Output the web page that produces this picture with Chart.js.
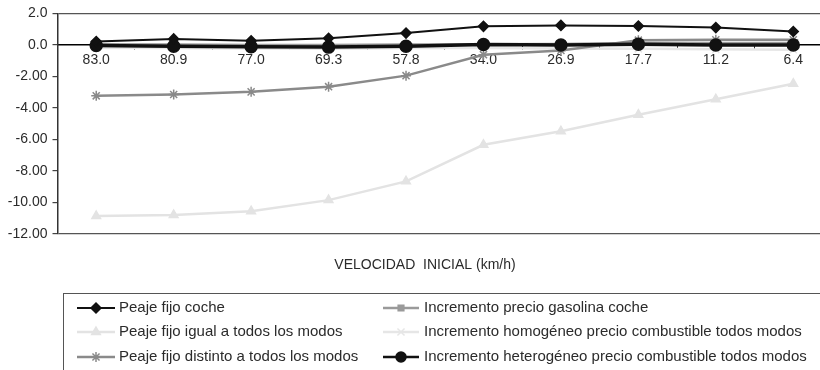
<!DOCTYPE html>
<html>
<head>
<meta charset="utf-8">
<script src="https://cdn.jsdelivr.net/npm/chart.js@4/dist/chart.umd.min.js"></script>
<style>
  html, body { margin: 0; padding: 0; background: #fff; overflow: hidden; }
  #wrap { width: 840px; height: 370px; }
</style>
</head>
<body>
<div id="wrap"><canvas id="c" width="840" height="370"></canvas></div>
<script>
// Velocidad inicial (km/h) por escenario
const categories = ['83.0', '80.9', '77.0', '69.3', '57.8', '34.0', '26.9', '17.7', '11.2', '6.4'];
const yTickValues = [2, 0, -2, -4, -6, -8, -10, -12];

const peajeCoche     = [0.22, 0.38, 0.26, 0.42, 0.75, 1.18, 1.24, 1.20, 1.10, 0.85];
const peajeIgual     = [-10.86, -10.80, -10.55, -9.85, -8.66, -6.34, -5.48, -4.43, -3.45, -2.46];
const peajeDistinto  = [-3.23, -3.15, -2.98, -2.65, -1.95, -0.62, -0.35, 0.30, 0.33, 0.33];
const gasolinaCoche  = [0.05, 0.03, 0.00, 0.00, 0.02, 0.05, 0.06, 0.12, 0.12, 0.12];
const homogeneo      = [-0.18, -0.20, -0.22, -0.24, -0.20, -0.20, -0.22, -0.25, -0.28, -0.30];
const heterogeneo    = [-0.04, -0.08, -0.12, -0.14, -0.08, 0.02, 0.00, 0.05, 0.00, 0.00];

const FONT = '"Liberation Sans", Arial, Helvetica, sans-serif';
const TEXT = '#2b2b2b';

function series(label, data, color, width, style, radius, fill, order) {
  return {
    label, data,
    borderColor: color,
    borderWidth: width,
    pointStyle: style,
    pointRadius: radius,
    pointHoverRadius: radius,
    pointBackgroundColor: fill,
    pointBorderColor: color,
    pointBorderWidth: 1.5,
    tension: 0,
    fill: false,
    order
  };
}

const datasets = [
  series('Peaje fijo coche', peajeCoche, '#111111', 2, 'rectRot', 5, '#111111', 0),
  series('Peaje fijo igual a todos los modos', peajeIgual, '#e3e3e3', 2.5, 'triangle', 5, '#e3e3e3', 5),
  series('Peaje fijo distinto a todos los modos', peajeDistinto, '#8a8a8a', 2.5, 'star', 5, '#8a8a8a', 2),
  series('Incremento precio gasolina coche', gasolinaCoche, '#9a9a9a', 2.5, 'rect', 4, '#9a9a9a', 3),
  series('Incremento homogéneo precio combustible todos modos', homogeneo, '#e6e6e6', 2.5, 'crossRot', 5, '#e6e6e6', 4),
  series('Incremento heterogéneo precio combustible todos modos', heterogeneo, '#111111', 3.5, 'circle', 6, '#111111', 1)
];

// Axis title and boxed two-column key drawn under the plot
const keyPlugin = {
  id: 'keyBox',
  afterDraw(chart) {
    const ctx = chart.ctx;
    ctx.save();
    ctx.font = '14px ' + FONT;
    ctx.fillStyle = TEXT;
    ctx.textAlign = 'center';
    ctx.textBaseline = 'middle';
    ctx.fillText('VELOCIDAD  INICIAL (km/h)', 425, 265);

    ctx.strokeStyle = '#555';
    ctx.lineWidth = 1;
    ctx.strokeRect(63.5, 293.5, 800, 120);

    const rows = [308, 332, 357];
    const cols = [{ x0: 77, x1: 115, tx: 119 }, { x0: 383, x1: 419, tx: 424 }];
    ctx.font = '15px ' + FONT;
    ctx.textAlign = 'left';
    chart.data.datasets.forEach((ds, i) => {
      const col = cols[Math.floor(i / 3)];
      const y = rows[i % 3];
      ctx.strokeStyle = ds.borderColor;
      ctx.lineWidth = Math.min(ds.borderWidth, 2.5);
      ctx.beginPath();
      ctx.moveTo(col.x0, y);
      ctx.lineTo(col.x1, y);
      ctx.stroke();
      ctx.fillStyle = ds.pointBackgroundColor;
      ctx.strokeStyle = ds.pointBorderColor;
      ctx.lineWidth = 1.5;
      Chart.helpers.drawPoint(ctx, {
        pointStyle: ds.pointStyle, radius: Math.min(ds.pointRadius, 5), rotation: 0, borderWidth: 1.5
      }, (col.x0 + col.x1) / 2, y);
      ctx.fillStyle = TEXT;
      ctx.fillText(ds.label, col.tx, y);
    });
    ctx.restore();
  }
};

new Chart(document.getElementById('c'), {
  type: 'line',
  data: { labels: categories, datasets },
  plugins: [keyPlugin],
  options: {
    responsive: false,
    animation: false,
    layout: { padding: { top: 12, right: 8, bottom: 136, left: 0 } },
    plugins: { legend: { display: false }, tooltip: { enabled: false } },
    scales: {
      x: {
        type: 'category',
        position: { y: 0 },
        offset: true,
        grid: { display: true, offset: true, drawOnChartArea: false, tickLength: 4, color: '#333' },
        border: { display: true, color: '#000', width: 1.5 },
        ticks: { color: TEXT, font: { family: FONT, size: 14 }, padding: 3, maxRotation: 0, autoSkip: false }
      },
      y: {
        min: -12, max: 2,
        afterBuildTicks(scale) { scale.ticks = yTickValues.map(v => ({ value: v })); },
        afterFit(scale) { scale.width = 57.5; },
        grid: {
          drawOnChartArea: true,
          tickLength: 5,
          tickColor: '#444',
          lineWidth: 1.2,
          color: (c) => (c.tick && (c.tick.value === 2 || c.tick.value === -12)) ? '#555' : 'rgba(0,0,0,0)'
        },
        border: { display: true, color: '#333', width: 1.5 },
        ticks: {
          color: TEXT,
          font: { family: FONT, size: 14 },
          padding: 5,
          callback: (v) => v >= 0 ? Number(v).toFixed(1) : Number(v).toFixed(2)
        }
      }
    }
  }
});
</script>
</body>
</html>
